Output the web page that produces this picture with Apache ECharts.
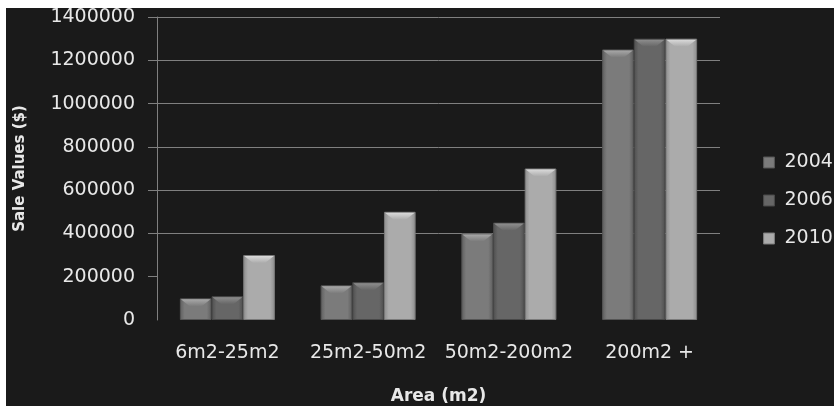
<!DOCTYPE html>
<html>
<head>
<meta charset="utf-8">
<script src="https://cdn.jsdelivr.net/npm/echarts@6/dist/echarts.min.js"></script>
<style>
  html, body { margin: 0; padding: 0; background: #ffffff; overflow: hidden; }
  #chart { position: absolute; left: 6px; top: 8px; width: 828px; height: 398px; }
</style>
</head>
<body>
<div id="chart"></div>
<script>
const categories = ['6m2-25m2', '25m2-50m2', '50m2-200m2', '200m2 +'];
const seriesNames = ['2004', '2006', '2010'];
const values2004 = [100000, 160000, 400000, 1250000];
const values2006 = [110000, 175000, 450000, 1300000];
const values2010 = [300000, 500000, 700000, 1300000];
const yTicks = [0, 200000, 400000, 600000, 800000, 1000000, 1200000, 1400000];

const FONT = 'DejaVu Sans';
const GAP = 0.325;
function grad(edge, mid) {
  return new echarts.graphic.LinearGradient(0, 0, 1, 0, [
    { offset: 0, color: edge },
    { offset: 0.15, color: mid },
    { offset: 0.85, color: mid },
    { offset: 1, color: edge }
  ]);
}
const styles = [
  { color: grad('#5e5e5e', '#7b7b7b'), border: '#555555', hi: '#a8a8a8', mid: '#7b7b7b' },
  { color: grad('#4e4e4e', '#666666'), border: '#484848', hi: '#8e8e8e', mid: '#666666' },
  { color: grad('#8c8c8c', '#ababab'), border: '#7a7a7a', hi: '#dadada', mid: '#ababab' }
];
const allValues = [values2004, values2006, values2010];

function bevelSeries(i) {
  return {
    name: seriesNames[i],
    type: 'custom',
    data: allValues[i].map((v, k) => [k, v]),
    encode: { x: 0, y: 1 },
    z: 3,
    silent: true,
    renderItem: function (params, api) {
      const k = api.value(0);
      const top = api.coord([k, api.value(1)]);
      const band = api.size([1, 0])[0];
      const bw = band * (1 - GAP) / 3;
      const x0 = top[0] - 1.5 * bw + i * bw + 1;
      const x1 = x0 + bw - 2;
      const y0 = top[1] + 1;
      const h = 7;
      const inset = bw * 0.28;
      return {
        type: 'polygon',
        shape: { points: [[x0, y0], [x1, y0], [x1 - inset, y0 + h], [x0 + inset, y0 + h]] },
        style: {
          fill: new echarts.graphic.LinearGradient(0, 0, 0, 1, [
            { offset: 0, color: styles[i].hi },
            { offset: 1, color: styles[i].mid }
          ])
        }
      };
    }
  };
}

const chart = echarts.init(document.getElementById('chart'), null, { renderer: 'canvas' });
chart.setOption({
  backgroundColor: '#1a1a1a',
  animation: false,
  textStyle: { fontFamily: FONT },
  grid: { left: 151, right: 114, top: 9, bottom: 86, outerBoundsMode: 'none', containLabel: false },
  legend: {
    orient: 'vertical',
    left: 757,
    top: 145,
    padding: 0,
    itemWidth: 11,
    itemHeight: 11,
    itemGap: 19,
    data: seriesNames.map((n, i) => ({ name: n, icon: 'rect', itemStyle: { color: styles[i].color, borderColor: styles[i].border, borderWidth: 1 } })),
    textStyle: { color: '#e8e8e8', fontSize: 19, fontFamily: FONT, padding: [0, 0, 0, 5] }
  },
  xAxis: {
    type: 'category',
    data: categories,
    name: 'Area (m2)',
    nameLocation: 'middle',
    nameGap: 68,
    nameTextStyle: { color: '#e8e8e8', fontSize: 17, fontWeight: 'bold', fontFamily: FONT },
    axisLine: { show: false },
    axisTick: { show: false },
    axisLabel: { color: '#e8e8e8', fontSize: 19, margin: 24, interval: 0, fontFamily: FONT, hideOverlap: false }
  },
  yAxis: {
    type: 'value',
    min: yTicks[0],
    max: yTicks[yTicks.length - 1],
    interval: yTicks[1] - yTicks[0],
    name: 'Sale Values ($)',
    nameLocation: 'middle',
    nameGap: 129,
    nameRotate: 90,
    nameTextStyle: { color: '#e8e8e8', fontSize: 15, fontWeight: 'bold', fontFamily: FONT },
    axisLine: { show: true, lineStyle: { color: '#808080', width: 1 } },
    axisTick: { show: true, inside: false, length: 9, customValues: yTicks.slice(1), lineStyle: { color: '#808080' } },
    axisLabel: { color: '#e8e8e8', fontSize: 19, margin: 22, fontFamily: FONT, formatter: v => String(v) },
    splitLine: { show: true, showMinLine: false, lineStyle: { color: '#808080', width: 1 } }
  },
  series: seriesNames.map((name, i) => ({
    name: name,
    type: 'bar',
    data: allValues[i],
    barGap: '0%',
    barCategoryGap: (GAP * 100) + '%',
    itemStyle: { color: styles[i].color, borderColor: styles[i].border, borderWidth: 1 }
  })).concat(seriesNames.map((n, i) => bevelSeries(i)))
});
</script>
</body>
</html>
